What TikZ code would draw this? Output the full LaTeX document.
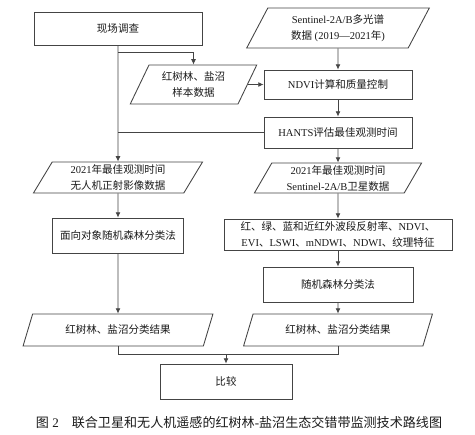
\documentclass[tikz,border=0pt]{standalone}
\usepackage{fontspec}
\setmainfont{Liberation Serif}
\newfontfamily\cjk{Noto Sans CJK SC}
\usepackage{xcolor}
\usetikzlibrary{arrows.meta,positioning,calc,shapes.geometric}
\definecolor{ink}{HTML}{1A1A1A}
\definecolor{linegrey}{HTML}{444444}

\begin{document}
\begin{tikzpicture}[
  x=0.75pt, y=-0.75pt,
  font=\fontsize{7.9}{12}\selectfont,
  box/.style={
    draw=linegrey, line width=0.65pt, fill=white, text=ink,
    align=center, inner sep=1pt
  },
  para/.style={box, trapezium, trapezium left angle=64, trapezium right angle=116,
    trapezium stretches=true},
  arr/.style={-{Latex[length=1.4mm,width=1.3mm]}, draw=linegrey, line width=0.6pt},
  link/.style={draw=linegrey, line width=0.6pt}
]

\useasboundingbox (0,0) rectangle (475,435);

\def\colL{118}
\def\colR{338}

% left column
\node[box, minimum width=126pt, minimum height=24.75pt] (site) at (\colL,28.5) {\cjk 现场调查};
\node[para, minimum width=95.25pt, minimum height=29.25pt] (sample) at (193.5,84.5)
  {\cjk 红树林、盐沼\\\cjk 样本数据};
\node[para, minimum width=127.5pt, minimum height=23.25pt] (uav) at (\colL,177.5)
  {2021{\cjk 年最佳观测时间}\\\cjk 无人机正射影像数据};
\node[box, minimum width=98.25pt, minimum height=26.25pt] (obj) at (\colL,235.5)
  {\cjk 面向对象随机森林分类法};
\node[para, minimum width=142.5pt, minimum height=24pt] (resL) at (\colL,330)
  {\cjk 红树林、盐沼分类结果};

% right column
\node[para, minimum width=137.25pt, minimum height=30pt] (s2) at (\colR,28)
  {Sentinel-2A/B{\cjk 多光谱}\\{\cjk 数据} (2019—2021{\cjk 年})};
\node[box, minimum width=111pt, minimum height=21.75pt] (ndvi) at (\colR,84.5)
  {NDVI{\cjk 计算和质量控制}};
\node[box, minimum width=111pt, minimum height=23.25pt] (hants) at (\colR,132.5)
  {HANTS{\cjk 评估最佳观测时间}};
\node[para, minimum width=126.75pt, minimum height=22.5pt] (sat) at (\colR,178)
  {2021{\cjk 年最佳观测时间}\\Sentinel-2A/B{\cjk 卫星数据}};
\node[box, minimum width=171pt, minimum height=23.25pt] (feat) at (\colR,234.5)
  {{\cjk 红、绿、蓝和近红外波段反射率、}NDVI{\cjk 、}\\
   EVI{\cjk 、}LSWI{\cjk 、}mNDWI{\cjk 、}NDWI{\cjk 、纹理特征}};
\node[box, minimum width=112.5pt, minimum height=26.25pt] (rf) at (\colR,284.5)
  {\cjk 随机森林分类法};
\node[para, minimum width=141.75pt, minimum height=24pt] (resR) at (\colR,330)
  {\cjk 红树林、盐沼分类结果};

\node[box, minimum width=99pt, minimum height=26.25pt] (cmp) at (226,381.5) {\cjk 比较};

\node[font=\fontsize{9.8}{12}\selectfont, text=ink] (cap) at (239,423)
  {{\cjk 图} 2\quad{\cjk 联合卫星和无人机遥感的红树林}-{\cjk 盐沼生态交错带监测技术路线图}};

% connectors
\coordinate (fork) at (\colL,52);
\coordinate (join) at (cmp.north |- 0,354);

\draw[arr] (site) -- (uav);
\draw[arr] (fork) -| (sample.north);
\draw[arr] (sample.east) -- (ndvi.west);
\draw[arr] (s2) -- (ndvi);
\draw[arr] (ndvi) -- (hants);
\draw[link] (hants.west) -- (site.south |- hants.west);
\draw[arr] (hants) -- (sat);
\draw[arr] (sat) -- (feat);
\draw[arr] (feat) -- (rf);
\draw[arr] (rf) -- (resR);
\draw[arr] (uav) -- (obj);
\draw[arr] (obj) -- (resL);
\draw[link] (resL.south) |- (join);
\draw[link] (resR.south) |- (join);
\draw[arr] (join) -- (cmp.north);

\end{tikzpicture}
\end{document}
